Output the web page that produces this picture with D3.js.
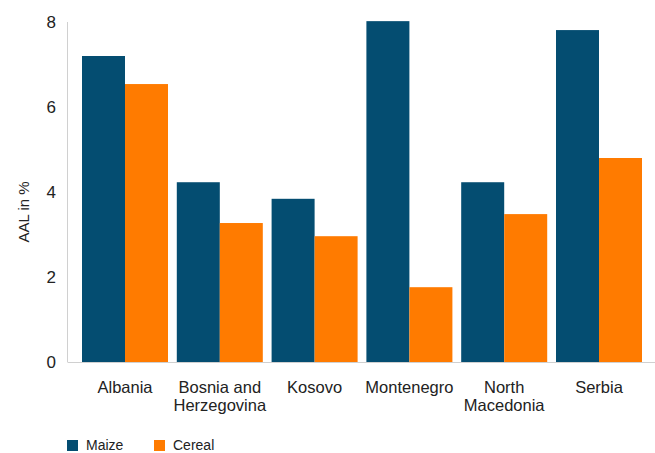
<!DOCTYPE html>
<html>
<head>
<meta charset="utf-8">
<script src="https://cdn.jsdelivr.net/npm/d3@7"></script>
<style>
  html, body { margin: 0; padding: 0; background: #fff; }
  svg { display: block; font-family: "Liberation Sans", Arial, sans-serif; }
</style>
</head>
<body>
<svg id="chart" width="655" height="453"></svg>
<script>
const categories = ["Albania", "Bosnia and\nHerzegovina", "Kosovo", "Montenegro", "North\nMacedonia", "Serbia"];
const seriesNames = ["Maize", "Cereal"];
const maize = [7.2, 4.23, 3.84, 8.02, 4.23, 7.81];
const cereal = [6.54, 3.27, 2.96, 1.76, 3.48, 4.8];
const yTicks = [0, 2, 4, 6, 8];
const colors = ["#044d71", "#ff7b00"];

const svg = d3.select("#chart");
const axisX = 67.5, yTop = 22, yBottom = 362;

const y = d3.scaleLinear().domain([0, 8]).range([yBottom, yTop]);
const x0 = d3.scaleBand().domain(categories).range([77.6, 646.4]).paddingInner(0.0928).paddingOuter(0.0464);
const x1 = d3.scaleBand().domain(seriesNames).range([0, x0.bandwidth()]).padding(0);

const data = categories.map((c, i) => ({ cat: c, values: [maize[i], cereal[i]] }));

// bars
const g = svg.append("g");
data.forEach(d => {
  seriesNames.forEach((s, j) => {
    g.append("rect")
      .attr("x", x0(d.cat) + x1(s))
      .attr("y", y(d.values[j]))
      .attr("width", x1.bandwidth())
      .attr("height", y(0) - y(d.values[j]))
      .attr("fill", colors[j]);
  });
});

// axes lines
svg.append("line").attr("x1", axisX).attr("x2", axisX).attr("y1", yTop).attr("y2", yBottom)
  .attr("stroke", "#d0d0d0").attr("stroke-width", 1);
svg.append("line").attr("x1", axisX).attr("x2", 655).attr("y1", yBottom + 0.5).attr("y2", yBottom + 0.5)
  .attr("stroke", "#d0d0d0").attr("stroke-width", 1);

// y tick labels
const yAxis = d3.axisLeft(y).tickValues(yTicks).tickSize(0).tickPadding(0).tickFormat(d3.format("d"));
const ya = svg.append("g").attr("transform", `translate(56,0)`).call(yAxis);
ya.select(".domain").remove();
ya.selectAll("text").attr("font-size", "17px").attr("fill", "#222").attr("font-family", "Liberation Sans, Arial, sans-serif");

// y title
svg.append("text")
  .attr("transform", "translate(29,212) rotate(-90)")
  .attr("text-anchor", "middle")
  .attr("font-size", "15px")
  .attr("fill", "#222")
  .text("AAL in %");

// x labels
data.forEach(d => {
  const lines = d.cat.split("\n");
  const t = svg.append("text")
    .attr("x", x0(d.cat) + x0.bandwidth() / 2)
    .attr("y", 393)
    .attr("text-anchor", "middle")
    .attr("font-size", "16.5px")
    .attr("fill", "#222");
  lines.forEach((ln, k) => {
    t.append("tspan").attr("x", x0(d.cat) + x0.bandwidth() / 2).attr("dy", k === 0 ? 0 : 17.5).text(ln);
  });
});

// legend
const legendX = [67, 154];
seriesNames.forEach((s, j) => {
  svg.append("rect").attr("x", legendX[j]).attr("y", 440).attr("width", 11).attr("height", 11).attr("fill", colors[j]);
  svg.append("text").attr("x", legendX[j] + 19).attr("y", 449.5).attr("font-size", "14px").attr("fill", "#222").text(s);
});
</script>
</body>
</html>
